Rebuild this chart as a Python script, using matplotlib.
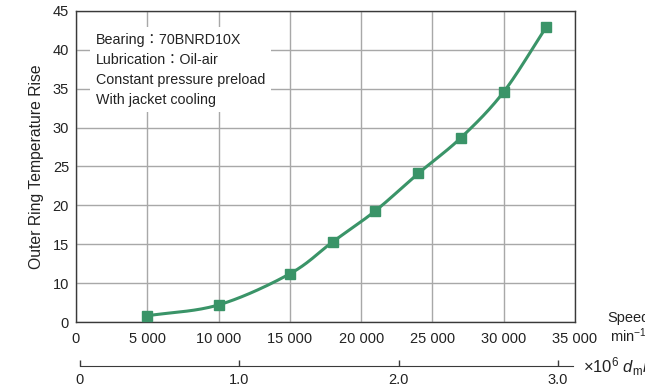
import numpy as np
import matplotlib
matplotlib.use("Agg")
import matplotlib.pyplot as plt

# data (y in plot units: bottom line = "0" label)
speed = [5000, 10000, 15000, 18000, 21000, 24000, 27000, 30000, 33000]
temp_rise = [5.8, 7.2, 11.2, 15.3, 19.3, 24.1, 28.7, 34.6, 43.0]

x_ticks = [0, 5000, 10000, 15000, 20000, 25000, 30000, 35000]
x_labels = ["0", "5 000", "10 000", "15 000", "20 000", "25 000", "30 000", "35 000"]
y_ticks = [5, 10, 15, 20, 25, 30, 35, 40, 45]
y_labels = ["0", "10", "15", "20", "25", "30", "35", "40", "45"]
dmn_ticks = [0, 1.0, 2.0, 3.0]
dmn_labels = ["0", "1.0", "2.0", "3.0"]

notes = ["Bearing：70BNRD10X", "Lubrication：Oil-air",
         "Constant pressure preload", "With jacket cooling"]

green = "#3a9468"
fonts = ["Liberation Sans", "Noto Sans CJK JP", "DejaVu Sans"]
plt.rcParams["font.family"] = fonts
plt.rcParams["mathtext.fontset"] = "custom"
plt.rcParams["mathtext.rm"] = "Liberation Sans"
plt.rcParams["mathtext.it"] = "Liberation Sans:italic"


def smooth(xs, ys, n=30):
    # Catmull-Rom curve through the points, only for drawing the line
    px = np.array(xs, float)
    py = np.array(ys, float)
    px = np.concatenate([[2 * px[0] - px[1]], px, [2 * px[-1] - px[-2]]])
    py = np.concatenate([[2 * py[0] - py[1]], py, [2 * py[-1] - py[-2]]])
    outx, outy = [], []
    t = np.linspace(0, 1, n)
    for i in range(1, len(px) - 2):
        for arr, out in ((px, outx), (py, outy)):
            p0, p1, p2, p3 = arr[i - 1], arr[i], arr[i + 1], arr[i + 2]
            out.extend(0.5 * (2 * p1 + (-p0 + p2) * t
                              + (2 * p0 - 5 * p1 + 4 * p2 - p3) * t ** 2
                              + (-p0 + 3 * p1 - 3 * p2 + p3) * t ** 3))
    return outx, outy


W, H = 645, 388
fig = plt.figure(figsize=(W / 100, H / 100), dpi=100)
ax = fig.add_axes([76 / W, (H - 322) / H, (575 - 76) / W, (322 - 11) / H])

ax.set_xlim(0, 35000)
ax.set_ylim(5, 45)
ax.set_xticks(x_ticks)
ax.set_xticklabels(x_labels)
ax.set_yticks(y_ticks)
ax.set_yticklabels(y_labels)
ax.tick_params(length=0, labelsize=10.5, colors="#222222")
ax.tick_params(axis="x", pad=7)
ax.tick_params(axis="y", pad=5)
ax.grid(True, color="#a8a8a8", lw=1)
ax.set_axisbelow(True)
for s in ax.spines.values():
    s.set_color("#3a3a3a")
    s.set_linewidth(1)

cx, cy = smooth(speed, temp_rise)
ax.plot(cx, cy, color=green, lw=2.2, zorder=3)
ax.plot(speed, temp_rise, "s", color=green, ms=7, zorder=4)

ax.text(1400, 42.2, "\n".join(notes), fontsize=10.3, va="top", ha="left",
        linespacing=1.55, color="#222222",
        bbox=dict(fc="white", ec="none", pad=4))

ax.set_ylabel("Outer Ring Temperature Rise", fontsize=11.3, color="#222222", labelpad=6)

fig.text(607 / W, 1 - 318 / H, "Speed", fontsize=10.5, va="center", ha="left", color="#222222")
fig.text(610 / W, 1 - 336 / H, "min$^{-1}$", fontsize=10.5, va="center", ha="left", color="#222222")

# second scale: dmn
ax2 = fig.add_axes([80 / W, (H - 366) / H, (573 - 80) / W, 0.001])
ax2.set_xlim(0, (573 - 80) / 159.33)
ax2.set_ylim(0, 1)
for k in ["left", "right", "top"]:
    ax2.spines[k].set_visible(False)
ax2.spines["bottom"].set_color("#3a3a3a")
ax2.set_yticks([])
ax2.set_xticks(dmn_ticks)
ax2.set_xticklabels(dmn_labels)
ax2.tick_params(axis="x", direction="in", length=4, width=1, color="#3a3a3a",
                labelsize=10.5, labelcolor="#222222", pad=5)
ax2.patch.set_visible(False)

fig.text(583 / W, 1 - 367 / H, r"×10$^{6}$ $d_{\mathrm{m}}n$", fontsize=12,
         va="center", ha="left", color="#222222")

fig.savefig("out.png", dpi=100)
